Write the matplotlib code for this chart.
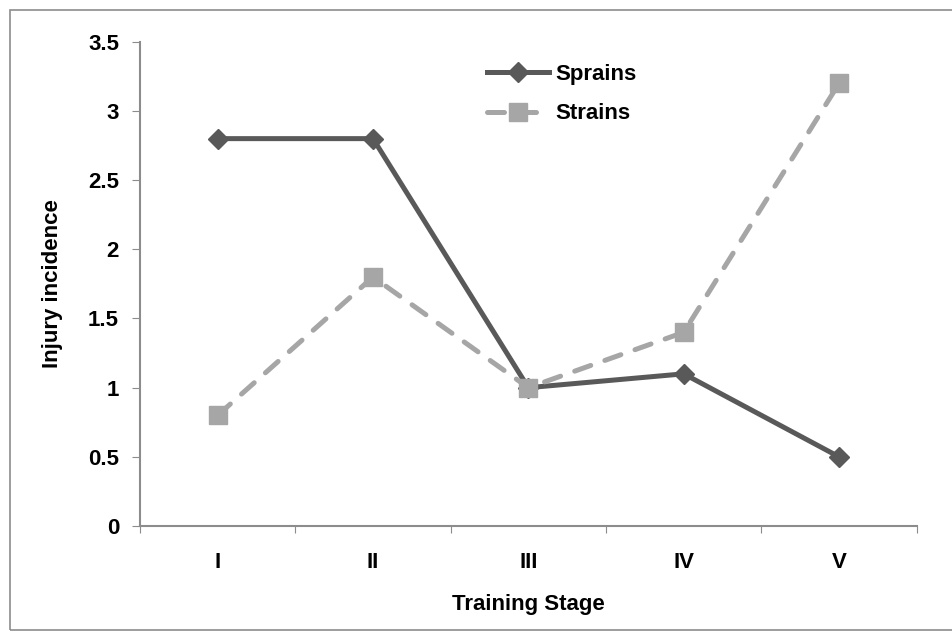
import matplotlib.pyplot as plt
from matplotlib.patches import Rectangle

# dane
stages = ['I', 'II', 'III', 'IV', 'V']
sprains = [2.8, 2.8, 1.0, 1.1, 0.5]
strains = [0.8, 1.8, 1.0, 1.4, 3.2]
y_ticks = [0, 0.5, 1, 1.5, 2, 2.5, 3, 3.5]
y_labels = ['0', '0.5', '1', '1.5', '2', '2.5', '3', '3.5']

plt.rcParams['font.family'] = ['Liberation Sans', 'DejaVu Sans']
plt.rcParams['font.weight'] = 'bold'
FS = 16

fig = plt.figure(figsize=(9.52, 6.33), dpi=100)
ax = fig.add_axes([0.147, 0.169, 0.816, 0.765])

# ramka wokół wykresu
fig.patches.append(Rectangle((0.011, 0.004), 1.0, 0.98, transform=fig.transFigure,
                             fill=False, edgecolor='#8c8c8c', linewidth=1.2))

x = list(range(len(stages)))
ax.plot(x, sprains, color='#595959', linewidth=3.6, marker='D', markersize=10,
        label='Sprains')
ax.plot(x, strains, color='#a6a6a6', linewidth=3.6, linestyle=(0, (3.4, 3.0)),
        dash_capstyle='round', marker='s', markersize=12.5, label='Strains')

ax.set_xlim(-0.5, len(stages) - 0.5)
ax.set_ylim(0, 3.5)
ax.set_yticks(y_ticks)
ax.set_yticklabels(y_labels, fontsize=FS, fontweight='bold')

# ticki na granicach kategorii
ax.set_xticks([i - 0.5 for i in range(len(stages) + 1)])
ax.set_xticklabels([])
ax.set_xticks(x, minor=True)
ax.set_xticklabels(stages, minor=True, fontsize=FS, fontweight='bold')
ax.tick_params(axis='x', which='minor', length=0, pad=19)
ax.tick_params(axis='x', which='major', length=5, direction='out', color='#8c8c8c')
ax.tick_params(axis='y', length=6, direction='out', color='#8c8c8c', pad=9)

for s in ['top', 'right']:
    ax.spines[s].set_visible(False)
for s in ['left', 'bottom']:
    ax.spines[s].set_color('#8c8c8c')
    ax.spines[s].set_linewidth(1.5)

ax.set_xlabel('Training Stage', fontsize=FS, fontweight='bold', labelpad=15)
ax.set_ylabel('Injury incidence', fontsize=FS, fontweight='bold', labelpad=18)

ax.legend(loc='upper left', bbox_to_anchor=(0.447, 0.955), frameon=False, borderpad=0,
          borderaxespad=0, fontsize=FS, handlelength=2.8, labelspacing=0.85,
          handletextpad=0.25)

plt.savefig('out.png', dpi=100)
plt.close()
